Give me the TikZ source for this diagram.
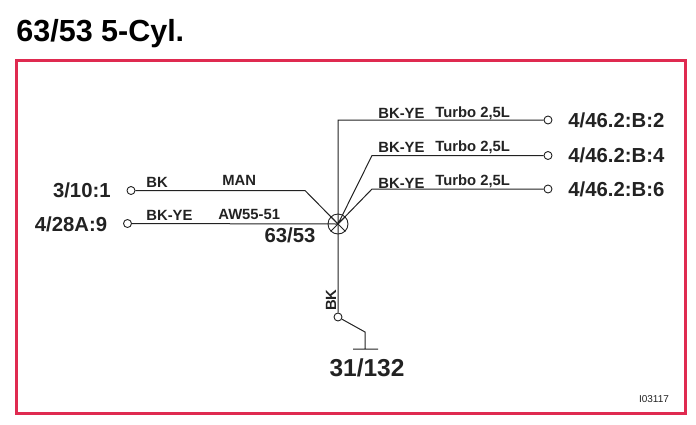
\documentclass[tikz,border=0pt]{standalone}
\usepackage{fontspec}
\setmainfont{Liberation Sans}
\definecolor{framered}{HTML}{DF2A50}
\definecolor{inkgray}{HTML}{222222}
\begin{document}
\begin{tikzpicture}[x=1pt,y=-1pt,thick,
            wire/.style={draw=inkgray,line width=1pt},
            pin node/.style={circle,draw=inkgray,line width=0.9pt,fill=white,inner sep=0pt,minimum size=8pt},
            splice node/.style={circle,draw=inkgray,line width=0.9pt,inner sep=0pt,minimum size=20pt},
            big label/.style={font=\fontsize{20.3}{20}\selectfont\bfseries,text=inkgray,inner sep=0pt},
            small label/.style={font=\fontsize{14.8}{14.5}\selectfont\bfseries,text=inkgray,inner sep=0pt}]

    \useasboundingbox (0,0) rectangle (696,424);

    \node[font=\fontsize{30.5}{30}\selectfont\bfseries,text=black,inner sep=0pt,anchor=west] (title) at (16,34) {63/53 5-Cyl.};
    \node[draw=framered,line width=3pt,minimum width=669pt,minimum height=353pt,inner sep=0pt,anchor=center] (frame) at (350.5,236.5) {};

    % splice and pins
    \node[splice node] (splice) at (338,224) {};
    \node[pin node] (p1) at (131,190.5) {};
    \node[pin node] (p2) at (127.5,223.5) {};
    \node[pin node] (p3) at (548,120) {};
    \node[pin node] (p4) at (548,155.5) {};
    \node[pin node] (p5) at (548,189) {};
    \node[pin node] (p6) at (338,317) {};

    \coordinate (k1) at (305,190.5);
    \coordinate (k3) at (338,120);
    \coordinate (k4) at (372,155.5);
    \coordinate (k5) at (372,189);
    \coordinate (g1) at (365,332);
    \coordinate (g2) at (365,349);
    \coordinate (g3) at (353,349);
    \coordinate (g4) at (378,349);

    \path[wire]
    (p1) -- (k1) -- (splice.center)
    (p2) -- (splice.center)
    (p3) -- (k3) -- (p6)
    (p4) -- (k4) -- (splice.center)
    (p5) -- (k5) -- (splice.center)
    (p6) -- (g1) -- (g2)
    (g3) -- (g4);
    \draw[wire] (splice.south west) -- (splice.north east);
    \draw[wire] (splice.north west) -- (splice.south east);

    % pin labels
    \node[big label,anchor=east] (l1) at (111,190) {3/10:1};
    \node[big label,anchor=east] (l2) at (107.5,224) {4/28A:9};
    \node[big label,anchor=west] (l3) at (568,120) {4/46.2:B:2};
    \node[big label,anchor=west] (l4) at (568,155) {4/46.2:B:4};
    \node[big label,anchor=west] (l5) at (568,189) {4/46.2:B:6};
    \node[big label] (l6) at (290,235) {63/53};
    \node[big label,font=\fontsize{24.5}{24}\selectfont\bfseries] (l7) at (367,368) {31/132};

    % wire labels
    \node[small label,anchor=west] (c1) at (146,182) {BK};
    \node[small label,anchor=west] (c2) at (222,180) {MAN};
    \node[small label,anchor=west] (c3) at (146,215) {BK-YE};
    \node[small label,anchor=west] (c4) at (218,214) {AW55-51};
    \node[small label,anchor=west] (c5) at (378,113) {BK-YE};
    \node[small label,anchor=west] (c6) at (435,113) {Turbo 2,5L};
    \node[small label,anchor=west] (c7) at (378,147) {BK-YE};
    \node[small label,anchor=west] (c8) at (435,147) {Turbo 2,5L};
    \node[small label,anchor=west] (c9) at (378,183) {BK-YE};
    \node[small label,anchor=west] (c10) at (435,181) {Turbo 2,5L};
    \node[small label,rotate=90] (c11) at (331,300) {BK};
    \node[font=\fontsize{10}{10}\selectfont,text=inkgray,inner sep=0pt] (code) at (654,399) {I03117};
\end{tikzpicture}
\end{document}
